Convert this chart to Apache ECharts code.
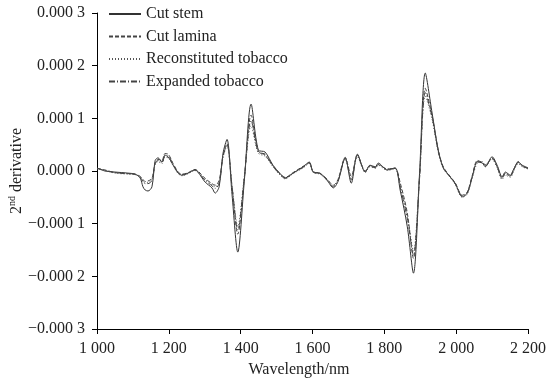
<!DOCTYPE html>
<html>
<head>
<meta charset="utf-8">
<script src="https://cdn.jsdelivr.net/npm/echarts@6/dist/echarts.min.js"></script>
<style>html,body{margin:0;padding:0;background:#fff}#c{width:554px;height:380px}</style>
</head>
<body>
<div id="c"></div>
<script>
var wavelengths = [1000,1022,1050,1086,1106,1120,1128,1134,1142,1153,1162,1170,1181,1189,1198,1212,1226,1237,1254,1273,1281,1301,1320,1329,1340,1351,1362,1376,1392,1410,1429,1449,1468,1490,1510,1524,1546,1574,1591,1602,1621,1640,1658,1671,1691,1708,1725,1747,1760,1775,1783,1808,1830,1844,1864,1881,1898,1914,1933,1950,1964,1983,1997,2017,2031,2045,2059,2073,2081,2100,2114,2128,2137,2151,2159,2173,2184,2200];

var cutStem = [0.06e-4,0.00e-4,-0.02e-4,-0.04e-4,-0.06e-4,-0.13e-4,-0.30e-4,-0.36e-4,-0.38e-4,-0.30e-4,0.20e-4,0.25e-4,0.17e-4,0.30e-4,0.27e-4,0.11e-4,-0.04e-4,-0.08e-4,-0.04e-4,0.02e-4,-0.02e-4,-0.21e-4,-0.32e-4,-0.42e-4,-0.30e-4,0.34e-4,0.60e-4,-0.45e-4,-1.54e-4,-0.20e-4,1.27e-4,0.40e-4,0.36e-4,0.11e-4,-0.05e-4,-0.13e-4,-0.04e-4,0.08e-4,0.17e-4,-0.02e-4,-0.04e-4,-0.17e-4,-0.32e-4,-0.20e-4,0.25e-4,-0.23e-4,0.32e-4,-0.02e-4,0.11e-4,0.08e-4,0.15e-4,0.02e-4,0.06e-4,-0.36e-4,-1.06e-4,-1.94e-4,-0.05e-4,1.86e-4,1.10e-4,0.40e-4,0.06e-4,-0.11e-4,-0.23e-4,-0.49e-4,-0.42e-4,-0.11e-4,0.17e-4,0.15e-4,0.08e-4,0.27e-4,0.11e-4,-0.11e-4,-0.02e-4,-0.08e-4,0.02e-4,0.17e-4,0.11e-4,0.06e-4];

var cutLamina = [0.05e-4,0.02e-4,-0.03e-4,-0.05e-4,-0.06e-4,-0.10e-4,-0.16e-4,-0.20e-4,-0.19e-4,-0.14e-4,0.16e-4,0.22e-4,0.20e-4,0.33e-4,0.32e-4,0.14e-4,-0.02e-4,-0.06e-4,-0.03e-4,0.03e-4,0.00e-4,-0.14e-4,-0.24e-4,-0.27e-4,-0.18e-4,0.30e-4,0.52e-4,-0.30e-4,-1.20e-4,-0.15e-4,1.06e-4,0.38e-4,0.30e-4,0.10e-4,-0.06e-4,-0.12e-4,-0.03e-4,0.09e-4,0.15e-4,-0.01e-4,-0.05e-4,-0.15e-4,-0.27e-4,-0.16e-4,0.26e-4,-0.10e-4,0.30e-4,0.00e-4,0.10e-4,0.06e-4,0.12e-4,0.04e-4,0.05e-4,-0.22e-4,-0.80e-4,-1.66e-4,-0.15e-4,1.57e-4,1.05e-4,0.40e-4,0.08e-4,-0.10e-4,-0.22e-4,-0.46e-4,-0.40e-4,-0.08e-4,0.20e-4,0.16e-4,0.12e-4,0.24e-4,0.08e-4,-0.14e-4,-0.05e-4,-0.10e-4,0.00e-4,0.18e-4,0.10e-4,0.05e-4];

var reconstituted = [0.04e-4,0.01e-4,-0.04e-4,-0.06e-4,-0.07e-4,-0.11e-4,-0.18e-4,-0.23e-4,-0.22e-4,-0.16e-4,0.12e-4,0.18e-4,0.14e-4,0.26e-4,0.25e-4,0.10e-4,-0.05e-4,-0.09e-4,-0.05e-4,0.01e-4,-0.03e-4,-0.16e-4,-0.26e-4,-0.30e-4,-0.22e-4,0.26e-4,0.48e-4,-0.28e-4,-1.05e-4,-0.12e-4,0.86e-4,0.34e-4,0.28e-4,0.08e-4,-0.08e-4,-0.15e-4,-0.05e-4,0.06e-4,0.14e-4,-0.03e-4,-0.06e-4,-0.18e-4,-0.28e-4,-0.18e-4,0.22e-4,-0.14e-4,0.27e-4,-0.03e-4,0.08e-4,0.05e-4,0.11e-4,0.01e-4,0.04e-4,-0.28e-4,-0.85e-4,-1.52e-4,-0.10e-4,1.42e-4,0.98e-4,0.36e-4,0.05e-4,-0.12e-4,-0.25e-4,-0.50e-4,-0.44e-4,-0.12e-4,0.15e-4,0.18e-4,0.10e-4,0.22e-4,0.06e-4,-0.16e-4,-0.08e-4,-0.12e-4,-0.02e-4,0.14e-4,0.08e-4,0.04e-4];

var expanded = [0.05e-4,0.01e-4,-0.03e-4,-0.05e-4,-0.06e-4,-0.12e-4,-0.20e-4,-0.24e-4,-0.24e-4,-0.18e-4,0.14e-4,0.20e-4,0.16e-4,0.28e-4,0.28e-4,0.12e-4,-0.03e-4,-0.07e-4,-0.04e-4,0.02e-4,-0.01e-4,-0.18e-4,-0.28e-4,-0.33e-4,-0.24e-4,0.28e-4,0.50e-4,-0.30e-4,-1.12e-4,-0.14e-4,0.96e-4,0.36e-4,0.32e-4,0.09e-4,-0.07e-4,-0.14e-4,-0.04e-4,0.07e-4,0.16e-4,-0.02e-4,-0.05e-4,-0.16e-4,-0.30e-4,-0.19e-4,0.24e-4,-0.17e-4,0.29e-4,-0.01e-4,0.09e-4,0.07e-4,0.13e-4,0.03e-4,0.05e-4,-0.30e-4,-0.90e-4,-1.60e-4,-0.12e-4,1.49e-4,1.02e-4,0.38e-4,0.07e-4,-0.11e-4,-0.24e-4,-0.47e-4,-0.41e-4,-0.10e-4,0.18e-4,0.16e-4,0.09e-4,0.25e-4,0.09e-4,-0.12e-4,-0.04e-4,-0.09e-4,0.01e-4,0.16e-4,0.09e-4,0.05e-4];

var seriesNames = ['Cut stem','Cut lamina','Reconstituted tobacco','Expanded tobacco'];
var xTickLabels = {1000:'1 000',1200:'1 200',1400:'1 400',1600:'1 600',1800:'1 800',2000:'2 000',2200:'2 200'};
var yTickLabels = ['−0.000 3','−0.000 2','−0.000 1','0.000 0','0.000 1','0.000 2','0.000 3'];

var FONT = '"Liberation Serif","DejaVu Serif",serif';
var TXT = '#222';
var FS = 16;
function pairs(vals){ return wavelengths.map(function(w,i){ return [w, vals[i]]; }); }
var styles = [
  {color:'#333', type:'solid'},
  {color:'#444', type:[4,2]},
  {color:'#555', type:[1,2]},
  {color:'#444', type:[6,2,1,2]}
];
var allVals = [cutStem, cutLamina, reconstituted, expanded];

var chart = echarts.init(document.getElementById('c'));
chart.setOption({
  animation:false,
  backgroundColor:'#fff',
  grid:{left:97, right:26, top:13, bottom:51, outerBoundsMode:'none', containLabel:false},
  legend:{
    orient:'vertical', left:103, top:1, itemWidth:32, itemHeight:12, itemGap:6.5,
    itemStyle:{opacity:0},
    textStyle:{fontFamily:FONT, fontSize:FS, color:TXT},
    data:seriesNames
  },
  xAxis:{
    type:'value', min:1000, max:2200, interval:200,
    name:'Wavelength/nm', nameLocation:'middle', nameGap:33, nameMoveOverlap:false,
    nameTextStyle:{fontFamily:FONT, fontSize:FS, color:TXT, padding:[0,27,0,0]},
    axisLine:{onZero:false, lineStyle:{color:'#000', width:1}},
    axisTick:{inside:false, length:5, lineStyle:{color:'#000'}},
    axisLabel:{margin:12, fontFamily:FONT, fontSize:FS, color:TXT,
      formatter:function(v){ return xTickLabels[v] || ''; }},
    splitLine:{show:false}
  },
  yAxis:{
    type:'value', min:-0.0003, max:0.0003, interval:0.0001,
    name:'{a|2}{b|nd}{a| derivative}', nameLocation:'middle', nameGap:72, nameRotate:90, nameMoveOverlap:false,
    nameTextStyle:{fontFamily:FONT, fontSize:FS, color:TXT,
      rich:{a:{fontFamily:FONT, fontSize:FS, color:TXT, lineHeight:18, verticalAlign:'bottom'},
            b:{fontFamily:FONT, fontSize:10, color:TXT, lineHeight:18, verticalAlign:'top', padding:[0,0,4,0]}}},
    axisLine:{show:true, onZero:false, lineStyle:{color:'#000', width:1}},
    axisTick:{show:true, inside:false, length:5, lineStyle:{color:'#000'}},
    axisLabel:{margin:12, fontFamily:FONT, fontSize:FS, color:TXT,
      formatter:function(v){ var k=Math.round(v/0.0001)+3; return yTickLabels[k]; }},
    splitLine:{show:false}
  },
  series: seriesNames.map(function(n,i){
    return {name:n, type:'line', symbol:'none', smooth:0.3, data:pairs(allVals[i]),
      lineStyle:{color:styles[i].color, width:1, type:styles[i].type},
      itemStyle:{color:styles[i].color}};
  })
});
</script>
</body>
</html>
